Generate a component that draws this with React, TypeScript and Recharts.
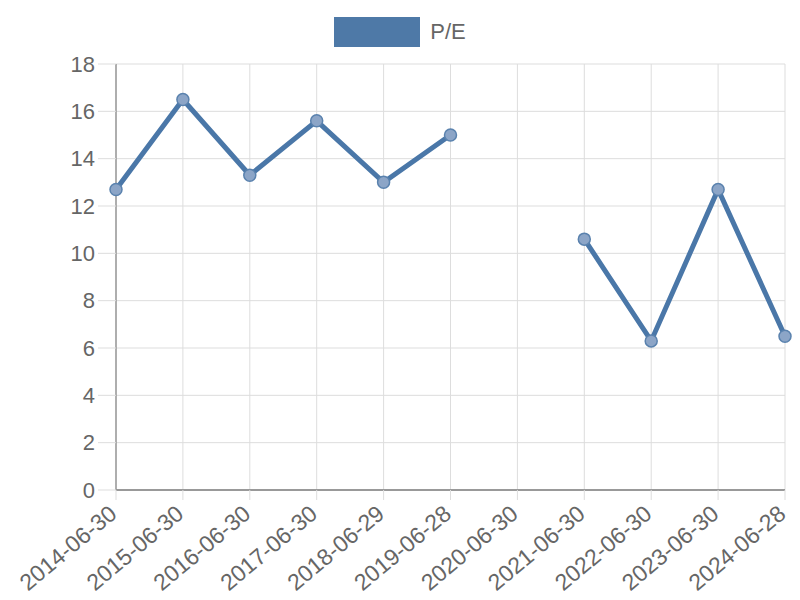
import * as React from 'react';
import { LineChart, Line, XAxis, YAxis, CartesianGrid, Legend } from 'recharts';

const dates = [
  '2014-06-30', '2015-06-30', '2016-06-30', '2017-06-30', '2018-06-29', '2019-06-28',
  '2020-06-30', '2021-06-30', '2022-06-30', '2023-06-30', '2024-06-28',
];
const peValues: (number | null)[] = [12.7, 16.5, 13.3, 15.6, 13.0, 15.0, null, 10.6, 6.3, 12.7, 6.5];
const yTicks = [0, 2, 4, 6, 8, 10, 12, 14, 16, 18];

const data = dates.map((d, i) => ({ date: d, pe: peValues[i] }));

const FONT = '"Liberation Sans", Arial, sans-serif';
const BLUE = '#4a77a8';

function LegendBox() {
  return (
    <div style={{ display: 'flex', justifyContent: 'center', alignItems: 'center', height: 30, fontFamily: FONT }}>
      <div style={{ width: 86, height: 30, background: '#4e79a7', marginRight: 10 }} />
      <span style={{ fontSize: 22, color: '#666' }}>P/E</span>
    </div>
  );
}

// rotated date label, end of text sits just under the tick
function DateTick(props: any) {
  const { x, payload } = props;
  return (
    <g transform={`translate(${x - 3}, 510) rotate(-40)`}>
      <text x={0} y={0} dy="0.35em" textAnchor="end" fontSize={23} fill="#666" fontFamily={FONT}>
        {payload.value}
      </text>
    </g>
  );
}

export default function App() {
  return (
    <div style={{ position: 'absolute', left: 0, top: 0, width: 800, height: 600, background: '#fff' }}>
      <LineChart width={800} height={600} data={data} margin={{ top: 34, right: 15, left: 0, bottom: 0 }}>
        <Legend verticalAlign="top" content={() => <LegendBox />} wrapperStyle={{ position: 'absolute', top: 17, left: 0, width: 800, height: 30 }} />
        <CartesianGrid stroke="#ddd" strokeWidth={1} />
        <XAxis
          dataKey="date"
          interval={0}
          height={110}
          tickSize={10}
          tick={<DateTick />}
          tickLine={{ stroke: '#ddd' }}
          axisLine={{ stroke: '#999', strokeWidth: 2 }}
        />
        <YAxis
          domain={[0, 18]}
          ticks={yTicks}
          interval={0}
          width={116}
          tickSize={18}
          tickMargin={3}
          tick={{ fontSize: 22, fill: '#666', fontFamily: FONT }}
          tickLine={{ stroke: '#ddd' }}
          axisLine={{ stroke: '#999', strokeWidth: 1.5 }}
        />
        <Line
          type="linear"
          dataKey="pe"
          stroke={BLUE}
          strokeWidth={5}
          dot={{ r: 6, fill: '#8ca5c7', stroke: '#5a82ae', strokeWidth: 1.5 }}
          activeDot={false}
          isAnimationActive={false}
        />
      </LineChart>
    </div>
  );
}
